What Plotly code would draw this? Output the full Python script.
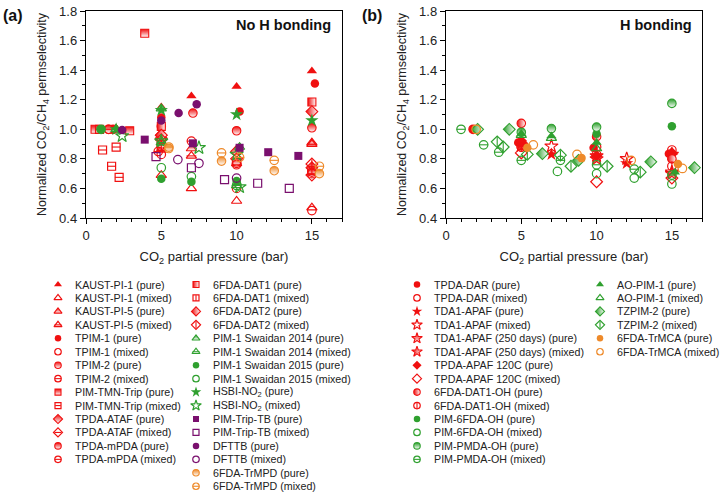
import plotly.graph_objects as go

# ---------------- DATA: panel (a) No H bonding ----------------
x_kaust1_pure = [2, 5, 7, 10, 15]
y_kaust1_pure = [1.0, 1.15, 1.225, 1.29, 1.395]
x_kaust1_mix = [2, 5, 7, 10, 15]
y_kaust1_mix = [1.0, 0.69, 0.60, 0.515, 0.47]
x_kaust5_pure = [2, 5, 7, 10, 15]
y_kaust5_pure = [1.0, 0.94, 0.87, 0.86, 0.91]
x_kaust5_mix = [2, 5, 7, 10, 15]
y_kaust5_mix = [1.0, 0.86, 0.82, 0.77, 0.90]
x_tpim1_pure = [1.8, 5, 10.2, 15.2]
y_tpim1_pure = [1.0, 1.08, 1.12, 1.31]
x_tpim1_mix = [1.8, 5, 10, 15]
y_tpim1_mix = [1.0, 0.83, 0.60, 0.45]
x_tpim2_pure = [1.5, 5, 7.1, 10, 15]
y_tpim2_pure = [1.0, 1.02, 1.11, 0.99, 1.01]
x_tpim2_mix = [1.5, 5, 7, 10, 15]
y_tpim2_mix = [1.0, 0.88, 0.92, 0.77, 0.72]
x_tmn_pure = [0.6, 2.9, 3.9]
y_tmn_pure = [1.0, 0.99, 1.65]
x_tmn_mix = [0.9, 1.1, 1.7, 2.0, 2.2]
y_tmn_mix = [1.0, 0.86, 0.75, 0.88, 0.675]
x_ataf_pure = [5, 10, 15]
y_ataf_pure = [0.96, 0.85, 0.74]
x_ataf_mix = [5, 10, 15]
y_ataf_mix = [0.94, 0.80, 0.69]
x_mpda_pure = [5, 10, 15]
y_mpda_pure = [0.90, 0.78, 0.71]
x_mpda_mix = [4.8, 10, 15]
y_mpda_mix = [0.85, 0.76, 0.70]
x_dat1_pure = [5, 15]
y_dat1_pure = [1.02, 1.185]
x_dat1_mix = [5, 15]
y_dat1_mix = [0.88, 0.72]
x_dat2_pure = [5, 15]
y_dat2_pure = [0.96, 1.12]
x_dat2_mix = [5, 15]
y_dat2_mix = [0.93, 0.765]
x_sw14_pure = [2, 5, 10.2]
y_sw14_pure = [1.0, 1.14, 0.88]
x_sw14_mix = [2, 5, 10]
y_sw14_mix = [1.0, 0.91, 0.62]
x_sw15_pure = [1, 5, 7, 10]
y_sw15_pure = [1.0, 0.665, 0.645, 0.65]
x_sw15_mix = [1, 5, 7, 10]
y_sw15_mix = [1.0, 0.74, 0.68, 0.62]
x_hsbi_pure = [2, 5, 10, 15]
y_hsbi_pure = [1.0, 1.13, 1.10, 1.06]
x_hsbi_mix = [2.4, 5, 7.5, 10, 10.2]
y_hsbi_mix = [0.955, 0.92, 0.875, 0.83, 0.61]
x_triptb_pure = [3.9, 7.1, 10.2, 12.1, 14.1]
y_triptb_pure = [0.93, 0.905, 0.875, 0.845, 0.82]
x_triptb_mix = [4.65, 7, 9.2, 11.4, 13.5]
y_triptb_mix = [0.815, 0.74, 0.66, 0.635, 0.60]
x_dfttb_pure = [2.4, 5, 6.15, 7.35]
y_dfttb_pure = [0.995, 1.06, 1.11, 1.17]
x_dfttb_mix = [6.1, 7.5, 10]
y_dfttb_mix = [0.795, 0.77, 0.67]
x_trmpd_pure = [5.5, 9, 12.5, 15.5]
y_trmpd_pure = [0.87, 0.785, 0.72, 0.70]
x_trmpd_mix = [5.5, 9, 10.2, 12.5, 15.5]
y_trmpd_mix = [0.88, 0.84, 0.81, 0.79, 0.75]

# ---------------- DATA: panel (b) H bonding ----------------
x_dar_pure = [1.8, 4.8, 9.8, 14.8]
y_dar_pure = [1.0, 0.91, 0.875, 0.835]
x_dar_mix = [1.8, 5, 10, 15]
y_dar_mix = [1.0, 0.88, 0.83, 0.86]
x_apaf_pure = [5, 7, 12, 15]
y_apaf_pure = [0.90, 0.83, 0.77, 0.82]
x_apaf_mix = [5, 7, 12, 15]
y_apaf_mix = [0.89, 0.885, 0.80, 0.71]
x_apaf250_pure = [10, 15]
y_apaf250_pure = [0.82, 0.83]
x_apaf250_mix = [10, 15]
y_apaf250_mix = [0.80, 0.70]
x_apaf120_pure = [5, 10, 15]
y_apaf120_pure = [0.92, 0.82, 0.84]
x_apaf120_mix = [5, 10, 15]
y_apaf120_mix = [0.84, 0.645, 0.67]
x_dat1oh_pure = [5, 10, 15]
y_dat1oh_pure = [1.04, 0.95, 0.80]
x_dat1oh_mix = [5, 10, 15]
y_dat1oh_mix = [0.88, 0.88, 0.75]
x_6fdaoh_pure = [2, 10, 15]
y_6fdaoh_pure = [1.0, 0.97, 1.02]
x_6fdaoh_mix = [7.4, 10, 12.5, 15]
y_6fdaoh_mix = [0.715, 0.70, 0.67, 0.63]
x_pmdaoh_pure = [5, 7, 10, 15]
y_pmdaoh_pure = [0.98, 1.005, 1.015, 1.175]
x_pmdaoh_mix = [1, 2.5, 3.5, 5, 7.6, 10, 12.5, 15]
y_pmdaoh_mix = [1.0, 0.895, 0.845, 0.79, 0.79, 0.76, 0.73, 0.69]
x_aopim_pure = [5, 7, 10, 15.2]
y_aopim_pure = [0.97, 0.955, 0.91, 0.71]
x_aopim_mix = [5, 7, 10]
y_aopim_mix = [0.96, 0.94, 0.87]
x_tzpim_pure = [2.1, 4.2, 6.4, 8.8, 13.6, 16.5]
y_tzpim_pure = [1.0, 1.0, 0.835, 0.79, 0.78, 0.74]
x_tzpim_mix = [3.4, 3.8, 5.4, 7.6, 8.3, 10.7, 12.9]
y_tzpim_mix = [0.915, 0.88, 0.83, 0.825, 0.75, 0.75, 0.71]
x_trmca_pure = [5.4, 9, 15.4]
y_trmca_pure = [0.875, 0.805, 0.765]
x_trmca_mix = [2, 5.8, 8.7, 12.3, 15.7]
y_trmca_mix = [1.0, 0.895, 0.83, 0.79, 0.735]

# axis ticks
x_ticks = [0, 5, 10, 15]
y_ticks = [0.4, 0.6, 0.8, 1.0, 1.2, 1.4, 1.6, 1.8]

RED = "#F01010"
GRN = "#2FA02F"
PUR = "#7A0F6E"
ORG = "#EE8A2A"

# label, x, y, color, base symbol, fill, overlay line, legend column, row
series_a = [
    ("KAUST-PI-1 (pure)", x_kaust1_pure, y_kaust1_pure, RED, "triangle-up", "f", None, 0, 0),
    ("KAUST-PI-1 (mixed)", x_kaust1_mix, y_kaust1_mix, RED, "triangle-up", "o", None, 0, 1),
    ("KAUST-PI-5 (pure)", x_kaust5_pure, y_kaust5_pure, RED, "triangle-up", "v", None, 0, 2),
    ("KAUST-PI-5 (mixed)", x_kaust5_mix, y_kaust5_mix, RED, "triangle-up", "o", "line-ew", 0, 3),
    ("TPIM-1 (pure)", x_tpim1_pure, y_tpim1_pure, RED, "circle", "f", None, 0, 4),
    ("TPIM-1 (mixed)", x_tpim1_mix, y_tpim1_mix, RED, "circle", "o", None, 0, 5),
    ("TPIM-2 (pure)", x_tpim2_pure, y_tpim2_pure, RED, "circle", "v", None, 0, 6),
    ("TPIM-2 (mixed)", x_tpim2_mix, y_tpim2_mix, RED, "circle", "o", "line-ew", 0, 7),
    ("PIM-TMN-Trip (pure)", x_tmn_pure, y_tmn_pure, RED, "square", "v", None, 0, 8),
    ("PIM-TMN-Trip (mixed)", x_tmn_mix, y_tmn_mix, RED, "square", "o", "line-ew", 0, 9),
    ("TPDA-ATAF (pure)", x_ataf_pure, y_ataf_pure, RED, "diamond", "v", None, 0, 10),
    ("TPDA-ATAF (mixed)", x_ataf_mix, y_ataf_mix, RED, "diamond", "o", "line-ew", 0, 11),
    ("TPDA-mPDA (pure)", x_mpda_pure, y_mpda_pure, RED, "circle", "v", None, 0, 12),
    ("TPDA-mPDA (mixed)", x_mpda_mix, y_mpda_mix, RED, "circle", "o", "line-ew", 0, 13),
    ("6FDA-DAT1 (pure)", x_dat1_pure, y_dat1_pure, RED, "square", "h", None, 1, 0),
    ("6FDA-DAT1 (mixed)", x_dat1_mix, y_dat1_mix, RED, "square", "o", "line-ns", 1, 1),
    ("6FDA-DAT2 (pure)", x_dat2_pure, y_dat2_pure, RED, "diamond", "h", None, 1, 2),
    ("6FDA-DAT2 (mixed)", x_dat2_mix, y_dat2_mix, RED, "diamond", "o", "line-ns", 1, 3),
    ("PIM-1 Swaidan 2014 (pure)", x_sw14_pure, y_sw14_pure, GRN, "triangle-up", "v", None, 1, 4),
    ("PIM-1 Swaidan 2014 (mixed)", x_sw14_mix, y_sw14_mix, GRN, "triangle-up", "o", "line-ew", 1, 5),
    ("PIM-1 Swaidan 2015 (pure)", x_sw15_pure, y_sw15_pure, GRN, "circle", "f", None, 1, 6),
    ("PIM-1 Swaidan 2015 (mixed)", x_sw15_mix, y_sw15_mix, GRN, "circle", "o", None, 1, 7),
    ("HSBI-NO<sub>2</sub> (pure)", x_hsbi_pure, y_hsbi_pure, GRN, "star", "f", None, 1, 8),
    ("HSBI-NO<sub>2</sub> (mixed)", x_hsbi_mix, y_hsbi_mix, GRN, "star", "o", None, 1, 9),
    ("PIM-Trip-TB (pure)", x_triptb_pure, y_triptb_pure, PUR, "square", "f", None, 1, 10),
    ("PIM-Trip-TB (mixed)", x_triptb_mix, y_triptb_mix, PUR, "square", "o", None, 1, 11),
    ("DFTTB (pure)", x_dfttb_pure, y_dfttb_pure, PUR, "circle", "f", None, 1, 12),
    ("DFTTB (mixed)", x_dfttb_mix, y_dfttb_mix, PUR, "circle", "o", None, 1, 13),
    ("6FDA-TrMPD (pure)", x_trmpd_pure, y_trmpd_pure, ORG, "circle", "v", None, 1, 14),
    ("6FDA-TrMPD (mixed)", x_trmpd_mix, y_trmpd_mix, ORG, "circle", "o", "line-ew", 1, 15),
]

series_b = [
    ("TPDA-DAR (pure)", x_dar_pure, y_dar_pure, RED, "circle", "f", None, 0, 0),
    ("TPDA-DAR (mixed)", x_dar_mix, y_dar_mix, RED, "circle", "o", None, 0, 1),
    ("TDA1-APAF (pure)", x_apaf_pure, y_apaf_pure, RED, "star", "f", None, 0, 2),
    ("TDA1-APAF (mixed)", x_apaf_mix, y_apaf_mix, RED, "star", "o", None, 0, 3),
    ("TDA1-APAF (250 days) (pure)", x_apaf250_pure, y_apaf250_pure, RED, "star", "v", None, 0, 4),
    ("TDA1-APAF (250 days) (mixed)", x_apaf250_mix, y_apaf250_mix, RED, "star", "h", None, 0, 5),
    ("TPDA-APAF 120C (pure)", x_apaf120_pure, y_apaf120_pure, RED, "diamond", "f", None, 0, 6),
    ("TPDA-APAF 120C (mixed)", x_apaf120_mix, y_apaf120_mix, RED, "diamond", "o", None, 0, 7),
    ("6FDA-DAT1-OH (pure)", x_dat1oh_pure, y_dat1oh_pure, RED, "circle", "h", None, 0, 8),
    ("6FDA-DAT1-OH (mixed)", x_dat1oh_mix, y_dat1oh_mix, RED, "circle", "o", "line-ns", 0, 9),
    ("PIM-6FDA-OH (pure)", x_6fdaoh_pure, y_6fdaoh_pure, GRN, "circle", "f", None, 0, 10),
    ("PIM-6FDA-OH (mixed)", x_6fdaoh_mix, y_6fdaoh_mix, GRN, "circle", "o", None, 0, 11),
    ("PIM-PMDA-OH (pure)", x_pmdaoh_pure, y_pmdaoh_pure, GRN, "circle", "v", None, 0, 12),
    ("PIM-PMDA-OH (mixed)", x_pmdaoh_mix, y_pmdaoh_mix, GRN, "circle", "o", "line-ew", 0, 13),
    ("AO-PIM-1 (pure)", x_aopim_pure, y_aopim_pure, GRN, "triangle-up", "f", None, 1, 0),
    ("AO-PIM-1 (mixed)", x_aopim_mix, y_aopim_mix, GRN, "triangle-up", "o", None, 1, 1),
    ("TZPIM-2 (pure)", x_tzpim_pure, y_tzpim_pure, GRN, "diamond", "h", None, 1, 2),
    ("TZPIM-2 (mixed)", x_tzpim_mix, y_tzpim_mix, GRN, "diamond", "o", "line-ns", 1, 3),
    ("6FDA-TrMCA (pure)", x_trmca_pure, y_trmca_pure, ORG, "circle", "f", None, 1, 4),
    ("6FDA-TrMCA (mixed)", x_trmca_mix, y_trmca_mix, ORG, "circle", "o", None, 1, 5),
]

W, H = 720, 493
FONT = "Arial, Liberation Sans, sans-serif"
fig = go.Figure()


def sym_size(base, legend):
    s = {"star": 10, "triangle-up": 9, "square": 8, "diamond": 9}.get(base, 8.5)
    return s - 2 if legend else s


def add_marks(xs, ys, color, base, fill, overlay, xa, ya, legend=False):
    size = sym_size(base, legend)
    if fill == "f":
        marker = dict(symbol=base, size=size, color=color, line=dict(width=0))
    elif fill == "o":
        marker = dict(symbol=base + "-open", size=size, color=color, line=dict(width=1.2, color=color))
    else:
        marker = dict(symbol=base, size=size, color=color,
                      gradient=dict(type="vertical" if fill == "v" else "horizontal", color="white"),
                      line=dict(width=1.1, color=color))
    fig.add_trace(go.Scatter(x=xs, y=ys, mode="markers", marker=marker, xaxis=xa, yaxis=ya,
                             showlegend=False, hoverinfo="skip"))
    if overlay:
        fig.add_trace(go.Scatter(x=xs, y=ys, mode="markers", xaxis=xa, yaxis=ya, showlegend=False,
                                 hoverinfo="skip",
                                 marker=dict(symbol=overlay, size=size - 2, color=color,
                                             line=dict(width=1.1, color=color))))


for lab, xs, ys, c, b, f, o, col, row in series_a:
    add_marks(xs, ys, c, b, f, o, "x", "y")
for lab, xs, ys, c, b, f, o, col, row in series_b:
    add_marks(xs, ys, c, b, f, o, "x2", "y2")

# custom legends (legend axis laid out in layout pixel units)
LEG_A_COLS = [58, 196]
LEG_B_COLS = [417, 600]
LEG_TOP = 284.5
LEG_STEP = 13.45
annotations = []
for series, cols in ((series_a, LEG_A_COLS), (series_b, LEG_B_COLS)):
    for lab, xs, ys, c, b, f, o, col, row in series:
        lx = cols[col]
        ly = LEG_TOP + row * LEG_STEP
        add_marks([lx], [ly], c, b, f, o, "x3", "y3", legend=True)
        annotations.append(dict(x=(lx + 15) / W, y=1 - ly / H, xref="paper", yref="paper",
                                text=lab, showarrow=False, xanchor="left", yanchor="middle",
                                font=dict(family=FONT, size=10.7, color="#222")))

ax_common = dict(showline=True, linecolor="black", linewidth=1.4, mirror=True, ticks="outside",
                 ticklen=5, tickwidth=1.2, tickcolor="black", showgrid=False, zeroline=False,
                 automargin=False, tickfont=dict(family=FONT, size=13, color="#222"))
xdom_a = [86 / W, 342 / W]
xdom_b = [446 / W, 702 / W]
ydom = [1 - 218 / H, 1 - 11 / H]
xtitle = dict(text="CO<sub>2</sub> partial pressure (bar)", font=dict(family=FONT, size=13, color="#222"), standoff=10)
ytitle = dict(text="Normalized CO<sub>2</sub>/CH<sub>4</sub> permselectivity",
              font=dict(family=FONT, size=12.5, color="#222"), standoff=9)

fig.update_layout(
    width=W, height=H, margin=dict(l=0, r=0, t=0, b=0, autoexpand=False),
    paper_bgcolor="white", plot_bgcolor="rgba(0,0,0,0)", showlegend=False,
    xaxis=dict(domain=xdom_a, range=[0, 17], tickvals=x_ticks, anchor="y", title=xtitle,
               minor=dict(dtick=1, ticks="outside", ticklen=3, tickcolor="black"), **ax_common),
    yaxis=dict(domain=ydom, range=[0.4, 1.8], tickvals=y_ticks, tickformat=".1f", anchor="x", title=ytitle,
               minor=dict(dtick=0.1, ticks="outside", ticklen=3, tickcolor="black"), **ax_common),
    xaxis2=dict(domain=xdom_b, range=[0, 17], tickvals=x_ticks, anchor="y2", title=xtitle,
                minor=dict(dtick=1, ticks="outside", ticklen=3, tickcolor="black"), **ax_common),
    yaxis2=dict(domain=ydom, range=[0.4, 1.8], tickvals=y_ticks, tickformat=".1f", anchor="x2", title=ytitle,
                minor=dict(dtick=0.1, ticks="outside", ticklen=3, tickcolor="black"), **ax_common),
    xaxis3=dict(domain=[0, 1], range=[0, W], visible=False, anchor="y3", fixedrange=True, automargin=False),
    yaxis3=dict(domain=[0, 1], range=[H, 0], visible=False, anchor="x3", fixedrange=True, automargin=False),
)

annotations += [
    dict(x=1 / W, y=1 - 15 / H, xref="paper", yref="paper", text="<b>(a)</b>", showarrow=False,
         xanchor="left", yanchor="middle", font=dict(family=FONT, size=16, color="#111")),
    dict(x=360 / W, y=1 - 15 / H, xref="paper", yref="paper", text="<b>(b)</b>", showarrow=False,
         xanchor="left", yanchor="middle", font=dict(family=FONT, size=16, color="#111")),
    dict(x=333 / W, y=1 - 25 / H, xref="paper", yref="paper", text="<b>No H bonding</b>", showarrow=False,
         xanchor="right", yanchor="middle", font=dict(family=FONT, size=14.5, color="#111")),
    dict(x=694 / W, y=1 - 25 / H, xref="paper", yref="paper", text="<b>H bonding</b>", showarrow=False,
         xanchor="right", yanchor="middle", font=dict(family=FONT, size=14.5, color="#111")),
]
fig.update_layout(annotations=annotations)

fig.write_html("out.html", config={"displayModeBar": False},
               post_script="document.body.style.margin='0';document.body.style.overflow='hidden';")
